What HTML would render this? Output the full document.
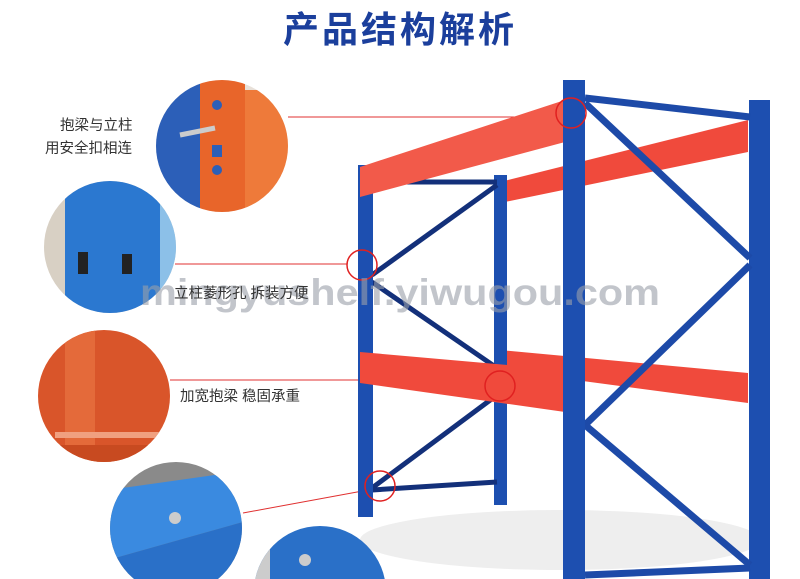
<!DOCTYPE html>
<html><head><meta charset="utf-8"><style>
body{margin:0;width:800px;height:579px;background:#fff;overflow:hidden;position:relative;font-family:"Liberation Sans","Noto Sans CJK SC",sans-serif}
.t{position:absolute;font-size:14.5px;color:#333;white-space:nowrap}
</style></head><body>
<svg width="800" height="579" style="position:absolute;left:0;top:0">
<defs>
<clipPath id="c1"><circle cx="222" cy="146" r="66"/></clipPath>
<clipPath id="c2"><circle cx="110" cy="247" r="66"/></clipPath>
<clipPath id="c3"><circle cx="104" cy="396" r="66"/></clipPath>
<clipPath id="c4"><circle cx="176" cy="528" r="66"/></clipPath>
<clipPath id="c5"><circle cx="320" cy="592" r="66"/></clipPath>
</defs>
<text x="400" y="42" text-anchor="middle" font-size="36" font-weight="bold" fill="#1b3f9c" font-family="Liberation Sans,Noto Sans CJK SC,sans-serif" letter-spacing="3">产品结构解析</text>
<ellipse cx="560" cy="540" rx="200" ry="30" fill="#eee"/>
<g clip-path="url(#c1)"><rect x="150" y="75" width="150" height="150" fill="#e8e0d8"/><rect x="150" y="75" width="50" height="150" fill="#2c5fb8"/><rect x="200" y="75" width="45" height="150" fill="#e8652a"/><rect x="245" y="90" width="45" height="120" fill="#ee7a3a"/><rect x="212" y="100" width="10" height="10" rx="5" fill="#2c5fb8"/><rect x="212" y="145" width="10" height="12" fill="#2c5fb8"/><rect x="212" y="165" width="10" height="10" rx="5" fill="#2c5fb8"/><path d="M180 135 L215 128" stroke="#ccc" stroke-width="5"/></g>
<g clip-path="url(#c2)"><rect x="40" y="180" width="140" height="140" fill="#d8d0c4"/><rect x="65" y="180" width="95" height="140" fill="#2b78d0"/><rect x="160" y="190" width="20" height="110" fill="#8cc0e8"/><rect x="78" y="252" width="10" height="22" fill="#222"/><rect x="122" y="254" width="10" height="20" fill="#222"/></g>
<g clip-path="url(#c3)"><rect x="35" y="328" width="140" height="140" fill="#d9552a"/><rect x="65" y="330" width="30" height="115" fill="#e46a3a"/><rect x="35" y="445" width="140" height="20" fill="#c84a20"/><rect x="55" y="432" width="120" height="6" fill="#f0a080"/></g>
<g clip-path="url(#c4)"><rect x="108" y="460" width="140" height="140" fill="#8a8a8a"/><polygon points="108,490 250,470 250,520 108,560" fill="#3a8ae0"/><polygon points="108,560 250,520 250,600 108,600" fill="#2a70c8"/><circle cx="175" cy="518" r="6" fill="#ccc"/></g>
<g clip-path="url(#c5)"><rect x="250" y="520" width="140" height="80" fill="#2a70c8"/><rect x="250" y="520" width="20" height="60" fill="#ccc"/><circle cx="305" cy="560" r="6" fill="#ccc"/></g>
<g stroke="#e03030" stroke-width="1" fill="none">
<line x1="288" y1="117" x2="557" y2="117"/>
<line x1="175" y1="264" x2="347" y2="264"/>
<line x1="170" y1="380" x2="486" y2="380"/>
<line x1="243" y1="513" x2="368" y2="490"/>
</g>
<polygon points="500,182 748,120 748,152 500,203" fill="#f04a3c"/>
<polygon points="500,350 748,373 748,403 500,370" fill="#f04a3c"/>
<rect x="749" y="100" width="21" height="479" fill="#1d4fb0"/>
<g stroke="#1d4aa8" stroke-width="7">
<line x1="585" y1="98" x2="750" y2="117"/>
<line x1="585" y1="103" x2="750" y2="258"/>
<line x1="750" y1="265" x2="585" y2="425"/>
<line x1="585" y1="425" x2="750" y2="565"/>
<line x1="585" y1="575" x2="750" y2="568"/>
</g>
<rect x="494" y="175" width="13" height="330" fill="#1d4fb0"/>
<g stroke="#13307a" stroke-width="5">
<line x1="372" y1="182" x2="497" y2="182"/>
<line x1="372" y1="275" x2="497" y2="185"/>
<line x1="372" y1="282" x2="497" y2="368"/>
<line x1="497" y1="395" x2="372" y2="488"/>
<line x1="372" y1="490" x2="497" y2="482"/>
</g>
<rect x="358" y="165" width="15" height="352" fill="#1d4fb0"/>
<polygon points="360,167 565,100 565,142 360,197" fill="#f25a4a"/>
<polygon points="360,352 565,370 565,412 360,383" fill="#f04a3c"/>
<rect x="563" y="80" width="22" height="499" fill="#1d4fb0"/>
<g stroke="#e02020" stroke-width="1.5" fill="none">
<circle cx="571" cy="113" r="15"/>
<circle cx="362" cy="265" r="15"/>
<circle cx="500" cy="386" r="15"/>
<circle cx="380" cy="486" r="15"/>
</g>
<text x="140" y="305" font-size="37" font-weight="bold" fill="#9aa0aa" opacity="0.6" textLength="520" lengthAdjust="spacingAndGlyphs" font-family="Liberation Sans,sans-serif">mingyushelf.yiwugou.com</text>
</svg>
<div class="t" style="left:60px;top:114px">抱梁与立柱</div>
<div class="t" style="left:45px;top:137px">用安全扣相连</div>
<div class="t" style="left:174px;top:282px">立柱菱形孔 拆装方便</div>
<div class="t" style="left:180px;top:385px">加宽抱梁 稳固承重</div>
</body></html>
